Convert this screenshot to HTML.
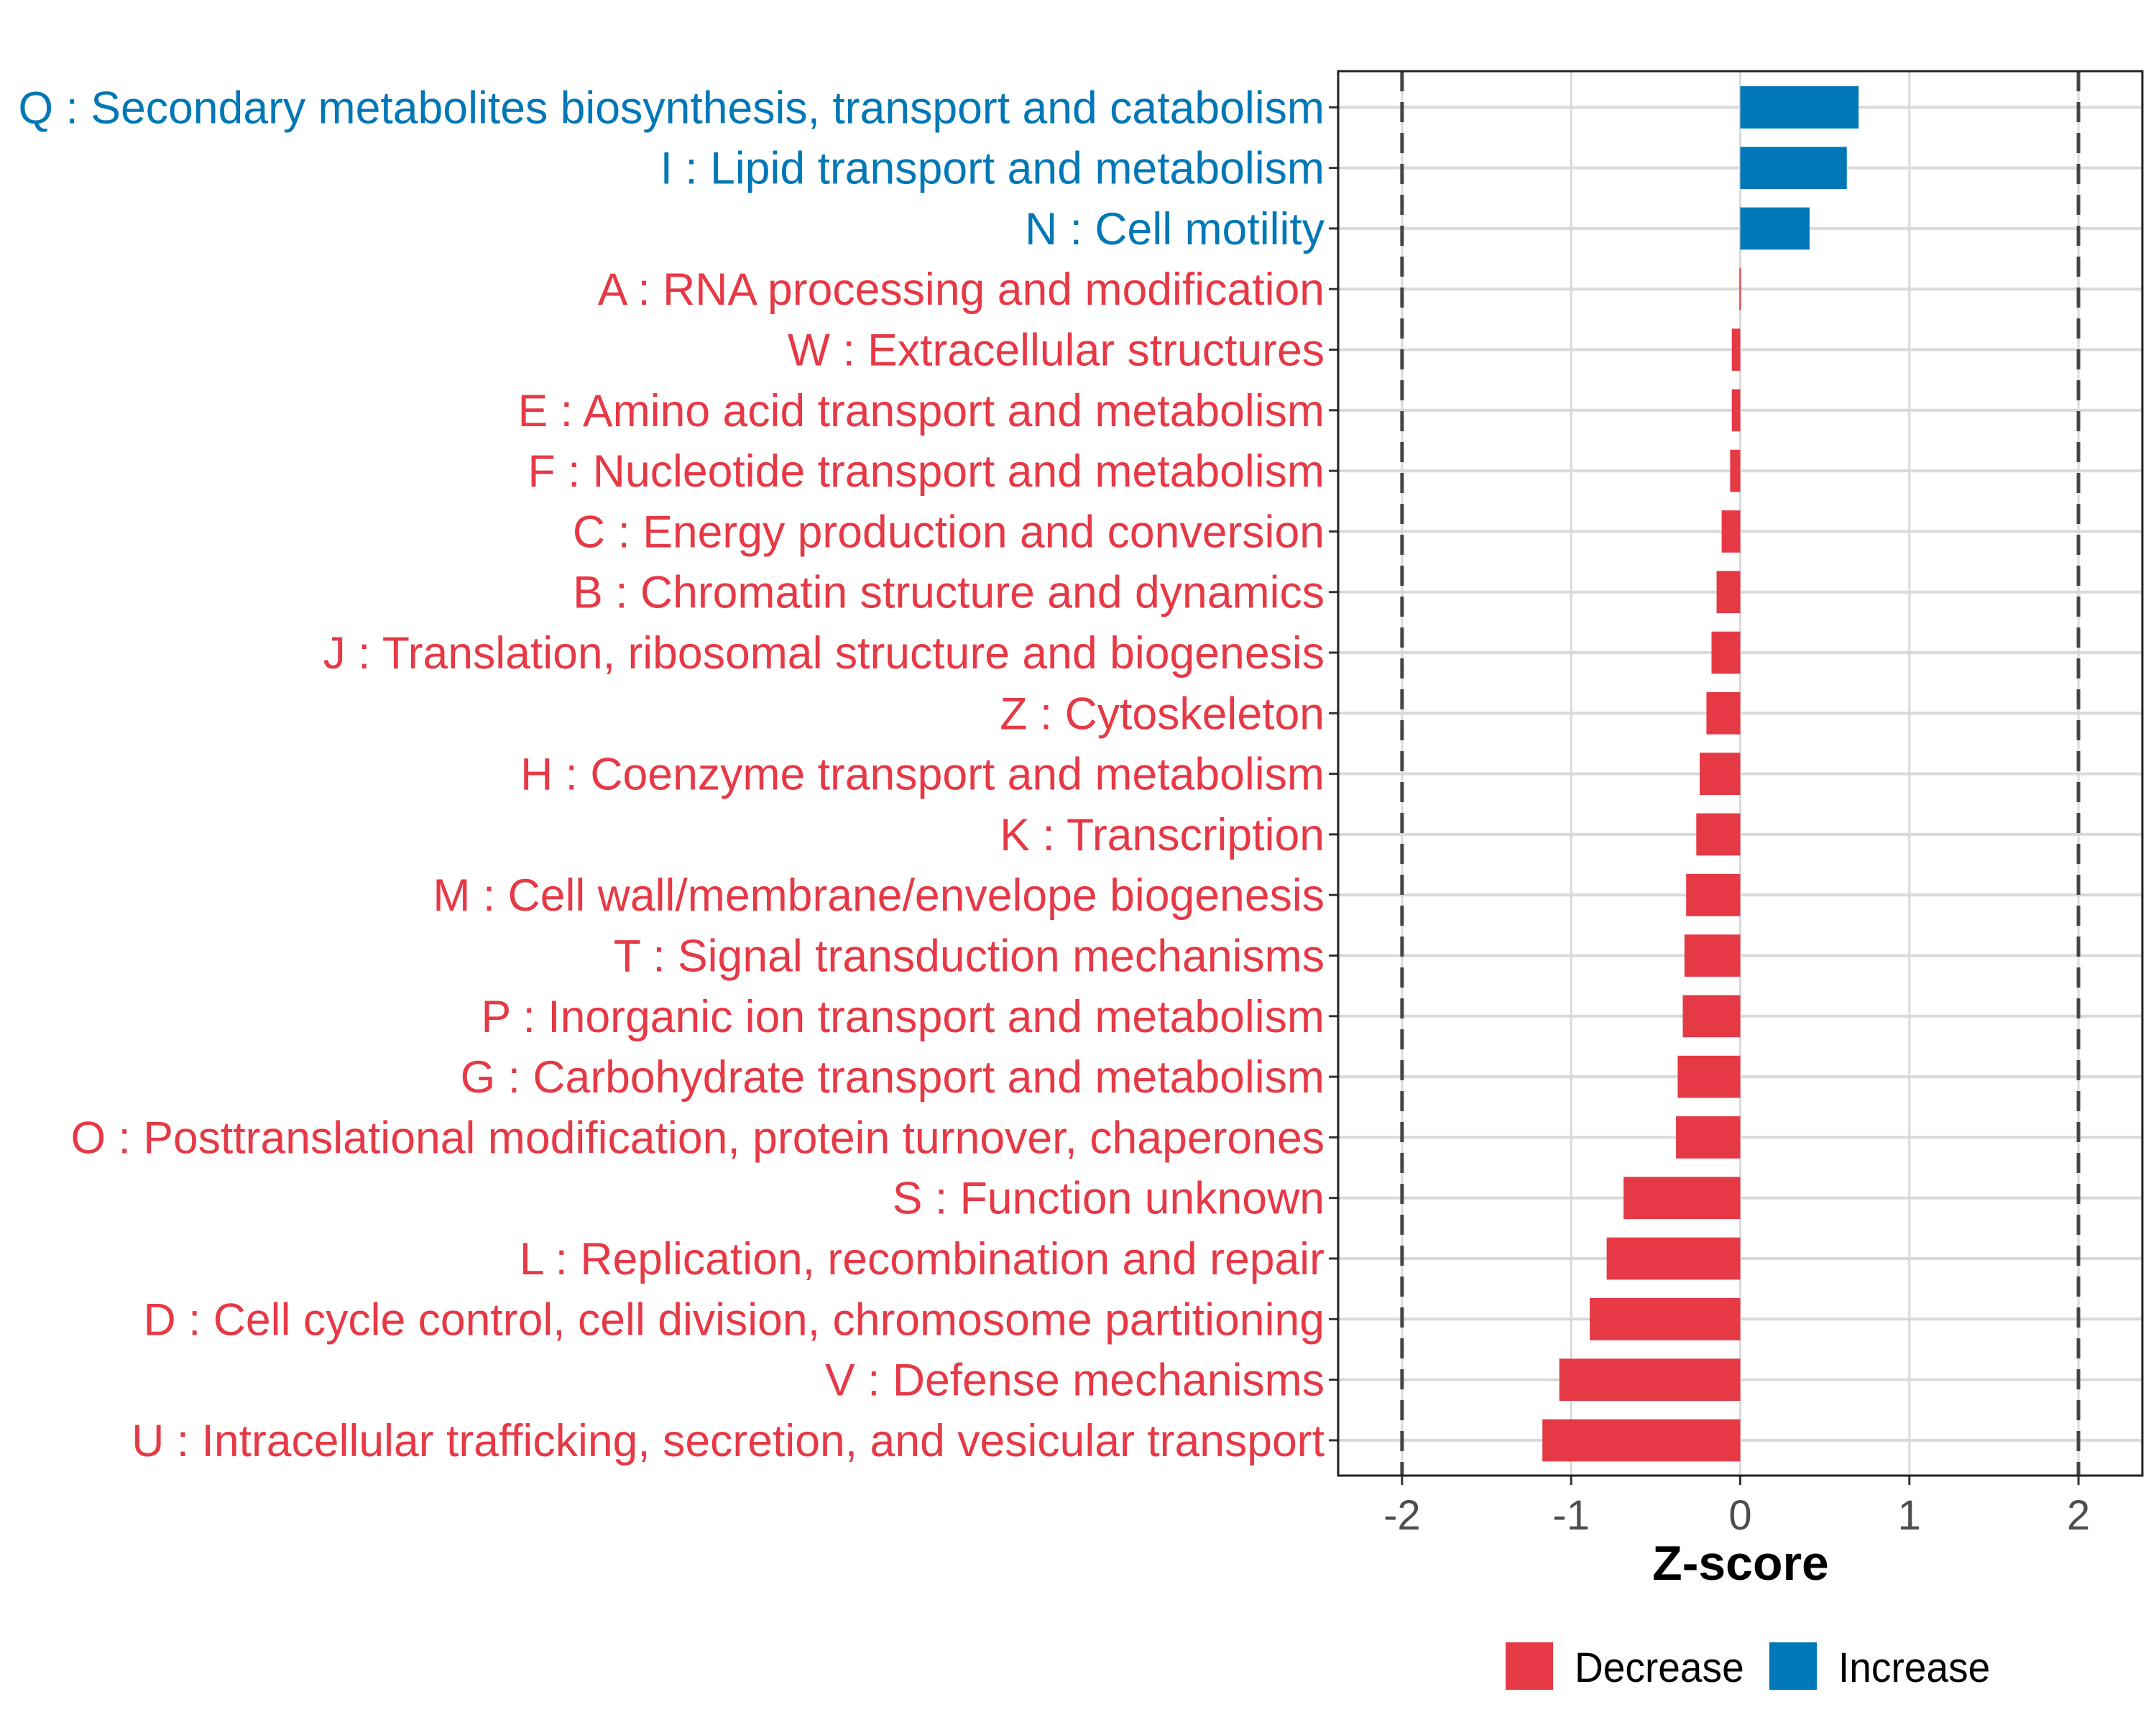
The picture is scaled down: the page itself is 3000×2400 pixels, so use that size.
<!DOCTYPE html>
<html><head><meta charset="utf-8"><style>
html,body{margin:0;padding:0;background:#fff;}
svg{display:block;font-family:"Liberation Sans",Arial,sans-serif;}
</style></head><body>
<svg id="chart" width="3000" height="2400" viewBox="0 0 3000 2400" xmlns="http://www.w3.org/2000/svg">
<rect x="0" y="0" width="3000" height="2400" fill="#fff"/>
<g id="grid"></g><g id="bars"></g><g id="ylabels"></g><g id="xaxis"></g>
<rect x="1862" y="99" width="1119" height="1954" fill="none" stroke="#222" stroke-width="3"/>
<text x="2422" y="2198" font-size="68" font-weight="bold" text-anchor="middle" fill="#000">Z-score</text>
<rect x="2095" y="2285" width="66" height="66" fill="#E63946"/>
<text x="2191" y="2340" font-size="58" fill="#000" transform="translate(2191 0) scale(0.95 1) translate(-2191 0)">Decrease</text>
<rect x="2462" y="2285" width="66" height="66" fill="#0077B6"/>
<text x="2558" y="2340" font-size="58" fill="#000" transform="translate(2558 0) scale(0.95 1) translate(-2558 0)">Increase</text>
</svg>
<script>
const categories=["Q : Secondary metabolites biosynthesis, transport and catabolism","I : Lipid transport and metabolism","N : Cell motility","A : RNA processing and modification","W : Extracellular structures","E : Amino acid transport and metabolism","F : Nucleotide transport and metabolism","C : Energy production and conversion","B : Chromatin structure and dynamics","J : Translation, ribosomal structure and biogenesis","Z : Cytoskeleton","H : Coenzyme transport and metabolism","K : Transcription","M : Cell wall/membrane/envelope biogenesis","T : Signal transduction mechanisms","P : Inorganic ion transport and metabolism","G : Carbohydrate transport and metabolism","O : Posttranslational modification, protein turnover, chaperones","S : Function unknown","L : Replication, recombination and repair","D : Cell cycle control, cell division, chromosome partitioning","V : Defense mechanisms","U : Intracellular trafficking, secretion, and vesicular transport"];
const zscores=[0.70,0.63,0.41,-0.005,-0.05,-0.05,-0.06,-0.11,-0.14,-0.17,-0.20,-0.24,-0.26,-0.32,-0.33,-0.34,-0.37,-0.38,-0.69,-0.79,-0.89,-1.07,-1.17];
const xTicks=[-2,-1,0,1,2];
const thresholds=[-2,2];
const NS="http://www.w3.org/2000/svg";
const RED="#E63946",BLUE="#0077B6";
function xs(v){return 2421.5+v*235.3;}
function ys(i){return 149.3+i*84.3;}
function mk(tag,attrs,parent){const e=document.createElementNS(NS,tag);for(const k in attrs)e.setAttribute(k,attrs[k]);parent.appendChild(e);return e;}
const grid=document.getElementById('grid'),bars=document.getElementById('bars'),yl=document.getElementById('ylabels'),xa=document.getElementById('xaxis');
xTicks.forEach(t=>{
  const l=mk('line',{x1:xs(t),x2:xs(t),y1:99,y2:2053,stroke:'#D9D9D9','stroke-width':3},grid);
  
  
  const tk=mk('line',{x1:xs(t),x2:xs(t),y1:2053,y2:2066,stroke:'#333','stroke-width':3},xa);
  
  
  const tx=mk('text',{x:xs(t),y:2128,'font-size':58,'text-anchor':'middle',fill:'#4D4D4D'},xa);
  tx.textContent=(t<0?'-'+Math.abs(t):String(t));
  
  
});
categories.forEach((c,i)=>{
  const y=ys(i);
  const g=mk('line',{x1:1862,x2:2981,y1:y,y2:y,stroke:'#D9D9D9','stroke-width':4},grid);
  
  
  const v=zscores[i];
  const bw=Math.max(Math.abs(xs(v)-xs(0)),2);
  const b=mk('rect',{x:Math.min(xs(v),xs(0)),y:y-29.3,width:bw,height:58.7,fill:v>=0?BLUE:RED},bars);
  
  
  const tk=mk('line',{x1:1849,x2:1862,y1:y,y2:y,stroke:'#333','stroke-width':3},yl);
  
  
  const t=mk('text',{x:1843,y:y+22,'font-size':63,'text-anchor':'end',fill:v>=0?BLUE:RED},yl);
  t.textContent=c;
  
  
});
thresholds.forEach(t=>{
  const l=mk('line',{x1:xs(t),x2:xs(t),y1:99,y2:2053,stroke:'#444','stroke-width':5,'stroke-dasharray':'28 15'},bars);
  
  
});
const first=yl.querySelector('text');
const w=first.getComputedTextLength();
const s=(1843-25)/w;
yl.querySelectorAll('text').forEach(t=>{t.setAttribute('transform','translate(1843 0) scale('+s+' 1) translate(-1843 0)');});
</script>
</body></html>
